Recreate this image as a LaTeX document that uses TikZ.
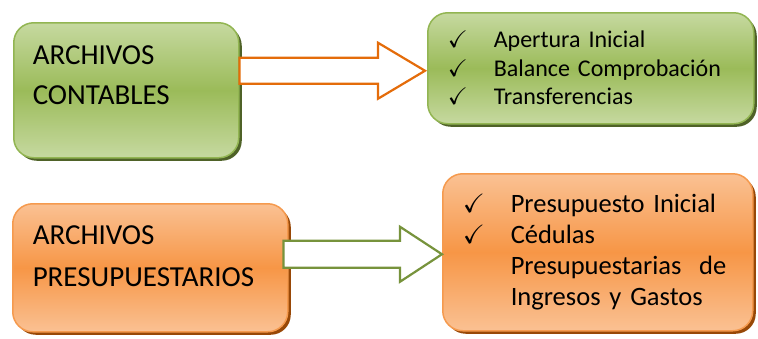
\documentclass[tikz,border=0pt]{standalone}
\usepackage{amssymb}
\usepackage{fontspec}
\setmainfont{Carlito}
\usetikzlibrary{calc, shadows}

\definecolor{greenLight}{HTML}{C6D9A0}
\definecolor{greenMid}{HTML}{9BBB59}
\definecolor{greenEdge}{HTML}{92B552}
\definecolor{greenShadow}{HTML}{4F6228}
\definecolor{orangeLight}{HTML}{FAC193}
\definecolor{orangeMid}{HTML}{F79646}
\definecolor{orangeEdge}{HTML}{F59A4E}
\definecolor{orangeShadow}{HTML}{984807}
\definecolor{arrowOrange}{HTML}{E46C0A}
\definecolor{arrowGreen}{HTML}{77933C}

\newcommand{\tickmark}[1][46pt]{\makebox[#1][l]{$\checkmark$}}

\begin{document}
\begin{tikzpicture}[x=1pt, y=-1pt,
          filebox/.style={rectangle, rounded corners=20pt, anchor=north west, align=left, line width=1.5pt},
          greenbox/.style={filebox, draw=greenEdge, top color=greenLight, bottom color=greenLight, middle color=greenMid,
            drop shadow={shadow xshift=3pt, shadow yshift=-3pt, fill=greenShadow, opacity=1}},
          orangebox/.style={filebox, draw=orangeEdge, top color=orangeLight, bottom color=orangeLight, middle color=orangeMid,
            drop shadow={shadow xshift=3pt, shadow yshift=-3pt, fill=orangeShadow, opacity=1}},
          fatarrow/.style={draw=#1, line width=2.2pt, fill=white, line join=miter}]
        \useasboundingbox (0,0) rectangle (758,338);

        % accounting files
        \node [greenbox, text width=187pt, inner xsep=19pt, inner ysep=22.7pt, text height=19pt, text depth=70.6pt,
               font=\fontsize{29}{40}\selectfont] (c1) at (13,22) {ARCHIVOS\\CONTABLES};
        \node [greenbox, text width=286pt, inner xsep=20pt, inner ysep=19.5pt, text height=15.5pt, text depth=56.5pt,
               font=\fontsize{24}{28.5}\selectfont] (c2) at (427,12)
              {\tickmark Apertura Inicial\\ \tickmark Balance Comprobación\\ \tickmark Transferencias};

        % budget files
        \node [orangebox, text width=235pt, inner xsep=20pt, inner ysep=22pt, text height=18.7pt, text depth=65.3pt,
               font=\fontsize{29}{41.7}\selectfont] (c3) at (12,203) {ARCHIVOS\\PRESUPUESTARIOS};
        \node [orangebox, text width=270pt, inner xsep=20pt, inner ysep=22pt, text height=17pt, text depth=96pt,
               font=\fontsize{26.5}{31}\selectfont] (c4) at (442,173)
              {\tickmark[48pt]Presupuesto Inicial\\ \tickmark[48pt]Cédulas\\ \hspace*{48pt}Presupuestarias\ \ de\\ \hspace*{48pt}Ingresos y Gastos};

        \coordinate (a1) at ($(c2.west)+(-2,2.5)$);
        \coordinate (a2) at ($(c4.west)+(0,2)$);

        \draw [fatarrow=arrowOrange] ($(c1.east|-a1)+(0,-13)$) -- ($(a1)+(-47,-13)$) -- ($(a1)+(-47,-28)$) -- (a1)
              -- ($(a1)+(-47,28)$) -- ($(a1)+(-47,13)$) -- ($(c1.east|-a1)+(0,13)$) -- cycle;
        \draw [fatarrow=arrowGreen] ($(c3.east|-a2)+(-5,-13.5)$) -- ($(a2)+(-42,-13.5)$) -- ($(a2)+(-42,-27.5)$) -- (a2)
              -- ($(a2)+(-42,27.5)$) -- ($(a2)+(-42,13.5)$) -- ($(c3.east|-a2)+(-5,13.5)$) -- cycle;
      \end{tikzpicture}
\end{document}
